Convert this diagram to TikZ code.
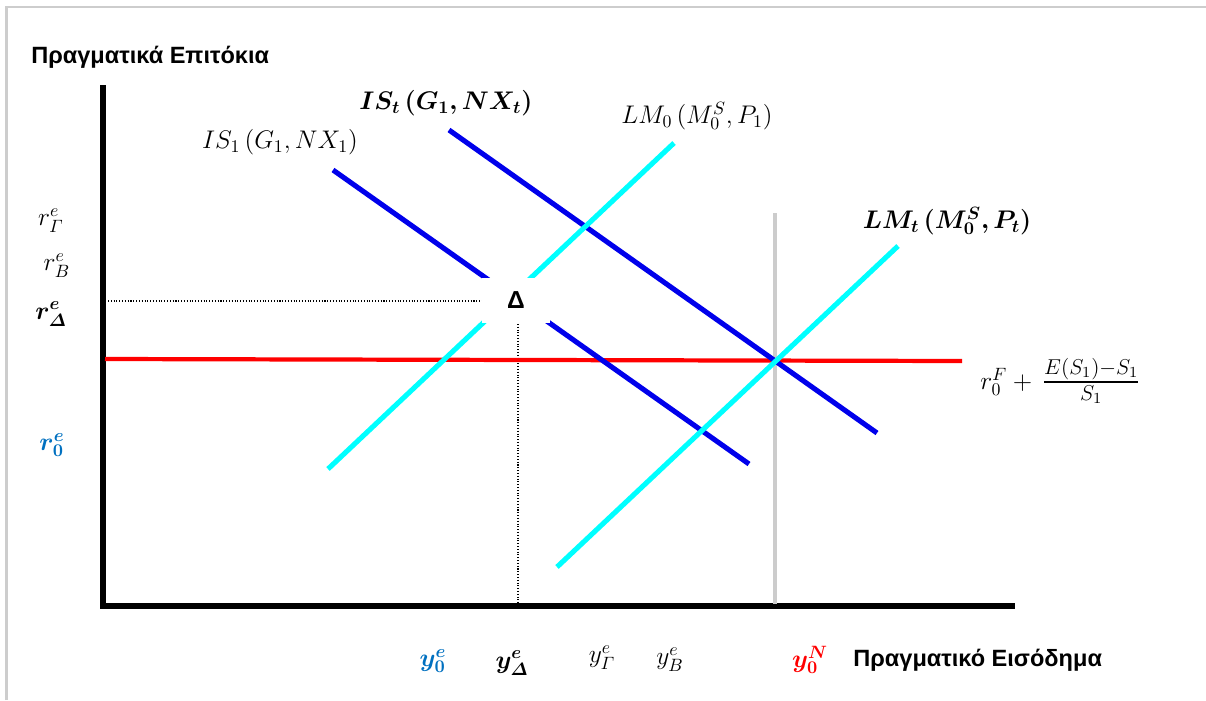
\RequirePackage{fix-cm}
\documentclass[tikz,border=0pt]{standalone}
\usepackage{amsmath,bm}
\usepackage{fontspec}
\newfontfamily\grsans{Liberation Sans}
\definecolor{isblue}{RGB}{0,0,235}
\definecolor{lmcyan}{RGB}{0,255,255}
\definecolor{lblblue}{RGB}{0,112,192}
\definecolor{framegray}{RGB}{205,205,205}
\tikzset{
  axisline/.style={line width=2.9pt},
  isline/.style={isblue, line width=2.9pt},
  lmline/.style={lmcyan, line width=2.9pt},
  guide/.style={densely dotted, line width=0.6pt},
  mlabel/.style={font=\fontsize{14.5}{17}\selectfont, inner sep=0pt},
  axtitle/.style={font=\grsans\bfseries\fontsize{13.4}{15}\selectfont, inner sep=0pt}
}
\begin{document}
\begin{tikzpicture}[x=0.02cm, y=-0.02cm]
  \useasboundingbox (0,0) rectangle (1206,700);
  % frame
  \draw[framegray, line width=1.2pt] (6.5,700) -- (6.5,7) -- (1206,7);
  % axes
  \draw[axisline] (103,85) -- (103,606) -- (1015,606);
  \node[axtitle, anchor=west] (ytitle) at (31,57) {Πραγματικά Επιτόκια};
  \node[axtitle, anchor=west] (xtitle) at (853,660) {Πραγματικό Εισόδημα};
  % guides
  \draw[guide] (108,301) -- (518,301) -- (518,606);
  \draw[gray!40, line width=2.3pt] (775,213) -- (775,604);
  \draw[red, line width=2.4pt] (105,359) -- (962,361);
  % curves
  \draw[isline] (333,170) -- (749,464);
  \draw[isline] (449,130) -- (877,433);
  \draw[lmline] (328,469) -- (674,143);
  \draw[lmline] (557,567) -- (898,246);
  % point D
  \node[fill=white, minimum width=1.36cm, minimum height=0.9cm, inner sep=0pt,
        font=\grsans\bfseries\fontsize{14}{16}\selectfont] (delta) at (516,300) {Δ};
  % curve labels
  \node[mlabel] (is1) at (280,142) {$IS_1\,(G_1, NX_1)$};
  \node[mlabel] (ist) at (446,103) {$\bm{IS_t\,(G_1, NX_t)}$};
  \node[mlabel] (lm0) at (697,116) {$LM_0\,(M_0^S, P_1)$};
  \node[mlabel] (lmt) at (947,221) {$\bm{LM_t\,(M_0^S, P_t)}$};
  \node[mlabel, anchor=west] (rf) at (980,381)
    {$r_0^F +{}$\,{\fontsize{17.5}{20}\selectfont$\frac{E(S_1)-S_1}{S_1}$}};
  % rate labels
  \node[mlabel] (rg) at (51,221) {$r_{\varGamma}^e$};
  \node[mlabel] (rb) at (57,266) {$r_B^e$};
  \node[mlabel] (rd) at (51,314) {$\bm{r_{\varDelta}^e}$};
  \node[mlabel, lblblue] (r0) at (52,445) {$\bm{r_0^e}$};
  % income labels
  \node[mlabel, lblblue] (y0) at (433,661) {$\bm{y_0^e}$};
  \node[mlabel] (yd) at (512,663) {$\bm{y_{\varDelta}^e}$};
  \node[mlabel] (yg) at (602,658) {$y_{\varGamma}^e$};
  \node[mlabel] (yb) at (670,660) {$y_B^e$};
  \node[mlabel, red] (yn) at (810,660) {$\bm{y_0^N}$};
\end{tikzpicture}
\end{document}
